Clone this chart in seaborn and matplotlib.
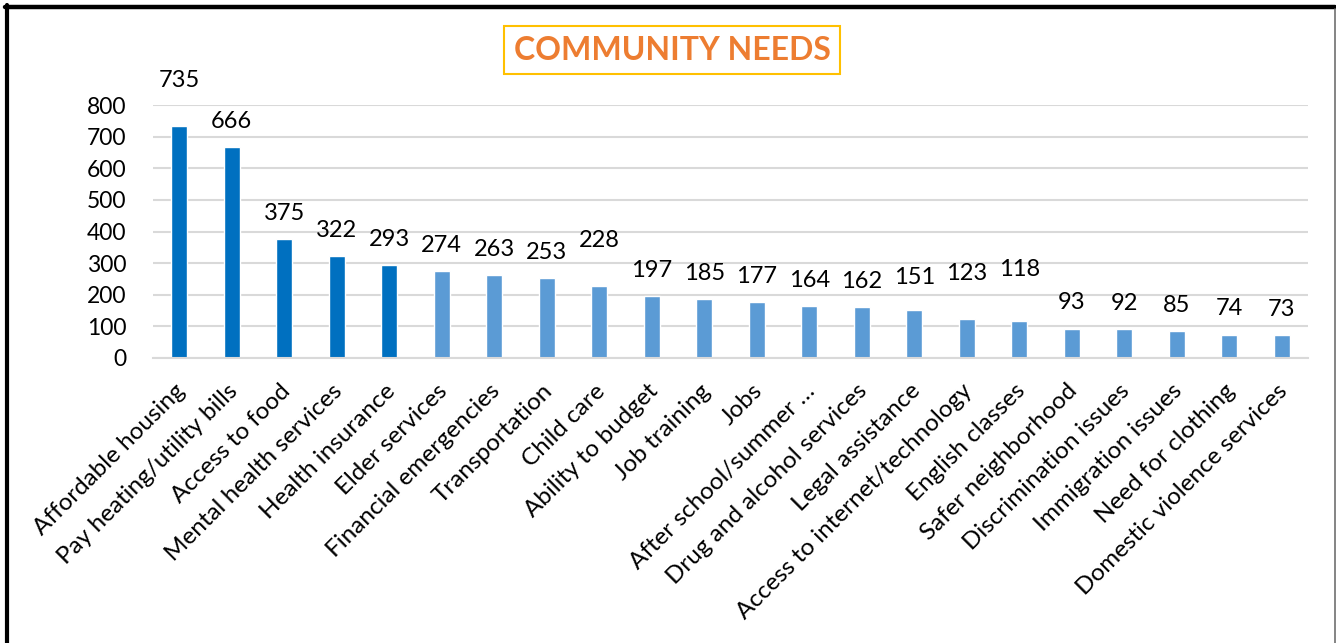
import matplotlib
matplotlib.use("Agg")
import matplotlib.pyplot as plt
import matplotlib.transforms as mtransforms
from matplotlib.lines import Line2D
import seaborn as sns
import pandas as pd

categories = [
    "Affordable housing", "Pay heating/utility bills", "Access to food",
    "Mental health services", "Health insurance", "Elder services",
    "Financial emergencies", "Transportation", "Child care",
    "Ability to budget", "Job training", "Jobs", "After school/summer …",
    "Drug and alcohol services", "Legal assistance",
    "Access to internet/technology", "English classes",
    "Safer neighborhood", "Discrimination issues", "Immigration issues",
    "Need for clothing", "Domestic violence services",
]
responses = [735, 666, 375, 322, 293, 274, 263, 253, 228, 197, 185, 177,
             164, 162, 151, 123, 118, 93, 92, 85, 74, 73]
y_ticks = [0, 100, 200, 300, 400, 500, 600, 700, 800]

# top five needs highlighted in a deeper blue
n_top = 5
dark_blue, light_blue = "#0070C0", "#5B9BD5"
bar_colors = [dark_blue if i < n_top else light_blue for i in range(len(categories))]

# extra lift (points) for a few value labels that sit higher above their bars
label_lift = [14, 0, 0, 0, 0, 0, 0, 0, 14, 0, 0, 0, 0, 0, 5, 14, 18, 0, 0, 0, 0, 0]

df = pd.DataFrame({"need": categories, "count": responses})

sns.set_theme(style="white")
plt.rcParams["font.family"] = ["Lato", "DejaVu Sans"]

fig = plt.figure(figsize=(13.36, 6.43), dpi=100)
ax = fig.add_axes([153 / 1336, 1 - 358 / 643, (1308 - 153) / 1336, (358 - 105) / 643])

sns.barplot(data=df, x="need", y="count", hue="need", palette=bar_colors,
            legend=False, width=0.305, ax=ax, saturation=1)

ax.set_ylim(0, 800)
ax.set_xlim(-0.5, len(categories) - 0.5)
ax.set_yticks(y_ticks)
ax.set_yticklabels([str(t) for t in y_ticks])
ax.set_xlabel("")
ax.set_ylabel("")
ax.yaxis.grid(True, color="#D9D9D9", linewidth=1.5)
ax.set_axisbelow(True)
for side in ["top", "right", "left"]:
    ax.spines[side].set_visible(False)
ax.spines["bottom"].set_color("#D9D9D9")
ax.spines["bottom"].set_linewidth(1.5)

ax.tick_params(axis="y", length=0, pad=19, labelsize=16.5, labelcolor="black")
ax.tick_params(axis="x", length=0, pad=16, labelsize=17.5, labelcolor="black")
ax.set_xticks(range(len(categories)))
ax.set_xticklabels(categories, rotation=45, ha="right", rotation_mode="anchor")
shift = mtransforms.ScaledTranslation(-5 / 100, 0, fig.dpi_scale_trans)
for lbl in ax.get_xticklabels():
    lbl.set_transform(lbl.get_transform() + shift)

for i, (v, lift) in enumerate(zip(responses, label_lift)):
    ax.annotate(str(v), xy=(i, v), xytext=(0, 18.5 + lift), textcoords="offset points",
                ha="center", va="center", fontsize=17, color="black",
                annotation_clip=False)

fig.text(672 / 1336, 1 - 50 / 643, "COMMUNITY NEEDS", ha="center", va="center",
         fontsize=23, fontweight="bold", color="#ED7D31",
         bbox=dict(boxstyle="square,pad=0.3", facecolor="white",
                   edgecolor="#FFC000", linewidth=1.5))

# chart frame: heavy black on top and left, thin grey on the right
fig.add_artist(Line2D([6.5 / 1336, 6.5 / 1336], [0, 1 - 5 / 643], transform=fig.transFigure,
                      color="black", linewidth=3))
fig.add_artist(Line2D([5 / 1336, 1335 / 1336], [1 - 7 / 643, 1 - 7 / 643], transform=fig.transFigure,
                      color="black", linewidth=3.2))
fig.add_artist(Line2D([1335 / 1336, 1335 / 1336], [0, 1 - 9 / 643], transform=fig.transFigure,
                      color="#707070", linewidth=1.2))

fig.savefig("out.png", dpi=100, facecolor="white")
